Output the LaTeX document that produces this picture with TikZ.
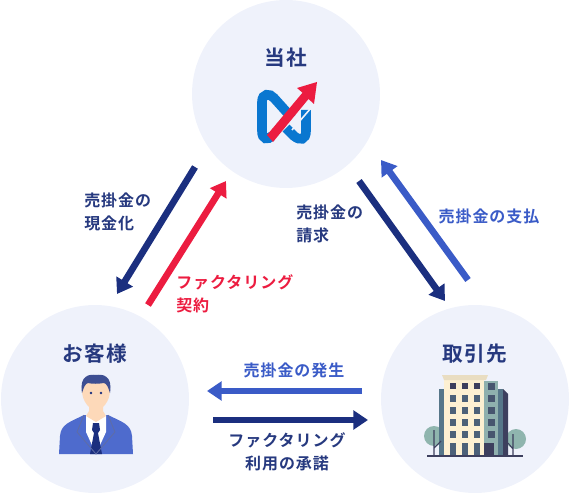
\documentclass[tikz,border=0pt]{standalone}
\usepackage{fontspec}
\setmainfont{Noto Sans CJK JP}[BoldFont={Noto Sans CJK JP Bold},LetterSpace=6]
\usetikzlibrary{arrows.meta,positioning}
\definecolor{bgcircle}{HTML}{EFF2FB}
\definecolor{navy}{HTML}{1B2F7F}
\definecolor{midblue}{HTML}{3A5BC7}
\definecolor{flagred}{HTML}{EC1C40}
\definecolor{labelnavy}{HTML}{26397F}
\definecolor{logoblue}{HTML}{0A77D0}
\definecolor{cream}{HTML}{FDF0D2}
\definecolor{towergrey}{HTML}{8FB0AE}
\definecolor{towerslate}{HTML}{567689}
\definecolor{towerdark}{HTML}{3D3F5E}
\definecolor{treegreen}{HTML}{8FB5AE}
\definecolor{skin}{HTML}{FDD9B9}
\tikzset{
  flowfig/.style={x=0.75pt,y=-0.75pt,
    every node/.style={align=center,inner sep=0pt}},
  party/.style={circle,fill=bgcircle,minimum size=141pt},
  title/.style={font=\fontsize{15.5}{18}\selectfont\bfseries,text=labelnavy},
  note/.style={font=\fontsize{12}{17.25}\selectfont\bfseries,text=labelnavy},
  redarrow/.style={line width=5pt,draw=flagred,-{Triangle[length=11pt,width=14pt]}},
  navyarrow/.style={line width=5pt,draw=navy,-{Triangle[length=11pt,width=14pt]}},
  bluearrow/.style={line width=5pt,draw=midblue,-{Triangle[length=11pt,width=14pt]}},
}
\begin{document}
\begin{tikzpicture}[flowfig]
    \useasboundingbox (0,0) rectangle (571,495);
    \node[party] (self) at (286,94) {};
    \node[party] (client) at (95,399) {};
    \node[party] (vendor) at (475,399) {};

    \node[title] (selftitle) at (286,58) {当社};
    \node[title] (clienttitle) at (95,354) {お客様};
    \node[title] (vendortitle) at (475,354) {取引先};

    % logo
    \draw[logoblue,line width=7.2pt]
      (272,136) .. controls (268,140) and (262,140) .. (262,131) -- (262,102)
      .. controls (262,93) and (270,93) .. (274,98) -- (292,118);
    \draw[logoblue,line width=7.2pt]
      (286,128) -- (294,136) .. controls (300,141) and (306,140) .. (306,131) -- (306,110);
    \draw[bgcircle,line width=1.2pt] (292,130) -- (311,108);
    \fill[flagred] (267,135) -- (302.5,92.7) -- (297,88) -- (317,82) -- (314,104)
      -- (308.5,99) -- (273,142) -- cycle;

    % client figure
    \fill[midblue!90] (59,454) -- (60,436) .. controls (61,424) and (70,422) .. (84,415)
      -- (108,415) .. controls (122,422) and (131,424) .. (132,436) -- (133,454) -- cycle;
    \fill[white] (86,415) -- (106,415) -- (106,432) -- (96,454) -- (86,432) -- cycle;
    \fill[skin] (89,402) -- (103,402) -- (103,411) -- (106,416) -- (96,422) -- (86,416) -- (89,411) -- cycle;
    \fill[skin] (82,390) .. controls (82,375) and (110,375) .. (110,390)
      .. controls (110,402) and (102,410) .. (96,410)
      .. controls (90,410) and (82,402) .. (82,390) -- cycle;
    \fill[navy!85] (82,393) .. controls (79,375) and (90,374) .. (96,375)
      .. controls (102,374) and (113,375) .. (110,393)
      .. controls (108,387) and (107,384) .. (104,383)
      .. controls (98,384) and (92,384) .. (88,383)
      .. controls (85,384) and (84,387) .. (82,393) -- cycle;
    \fill[navy] (93,423) -- (99,423) -- (100,430) -- (98,433)
      -- (102,454) -- (90,454) -- (94,433) -- (92,430) -- cycle;
    \draw[navy!70,line width=0.6pt] (84,415) -- (77,432) -- (96,454) -- (115,432) -- (108,415);
    \fill[navy] (91,393) circle (1pt) (101,393) circle (1pt);

    % vendor building
    \fill[treegreen] (434,436) circle (7.5pt) (516,439) circle (7.5pt);
    \fill[towerslate] (439,389) rectangle (444,456);
    \fill[cream] (444,380) rectangle (484,456);
    \fill[cream!92!black] (442,375) -- (488,375) -- (486,380) -- (444,380) -- cycle;
    \fill[towergrey] (484,381) rectangle (498,456);
    \fill[towerslate] (498,389) rectangle (503,456);
    \fill[towerdark] (503,389) -- (508,394) -- (508,456) -- (503,456) -- cycle;
    \foreach \wx in {453,465,477} {
      \fill[towerdark] (\wx-3,383) rectangle (\wx+3,389);
      \foreach \wy in {398,410,422,434}
        \fill[towerslate!60!towerdark] (\wx-3,\wy-3.5) rectangle (\wx+3,\wy+3.5);
      \fill[towerslate!60!towerdark] (\wx-3,443) rectangle (\wx+3,456);
    }
    \foreach \wy in {386,398,410,422,434}
      \fill[towerslate!40!towerdark] (487.5,\wy-3.5) rectangle (494.5,\wy+3.5);
    \fill[towerdark] (484,443) rectangle (494,456);
    \draw[towerdark,line width=0.8pt] (434,430) -- (434,456) (434,448) -- (441,441)
      (513,434) -- (513,456) (513,449) -- (508,443);
    \draw[towerdark,line width=1pt] (427,456) -- (523,456);

    % arrows
    \coordinate (cashfrom) at (195,167);
    \coordinate (cashto) at (117,294);
    \coordinate (dealfrom) at (148,305);
    \coordinate (dealto) at (226,181);
    \coordinate (billfrom) at (359,181);
    \coordinate (billto) at (445,301);
    \coordinate (payfrom) at (468,280);
    \coordinate (payto) at (381,160);
    \coordinate (risefrom) at (362,391);
    \coordinate (riseto) at (207,391);
    \coordinate (okfrom) at (213,420);
    \coordinate (okto) at (368,420);
    \draw[navyarrow] (cashfrom) -- (cashto);
    \draw[redarrow] (dealfrom) -- (dealto);
    \draw[navyarrow] (billfrom) -- (billto);
    \draw[bluearrow] (payfrom) -- (payto);
    \draw[bluearrow] (risefrom) -- (riseto);
    \draw[navyarrow] (okfrom) -- (okto);

    % labels
    \node[note,align=left,anchor=west] (cashnote) at (84,212) {売掛金の\\現金化};
    \node[note,align=left,anchor=west,text=flagred] (dealnote) at (176,294) {ファクタリング\\契約};
    \node[note,align=left,anchor=west] (billnote) at (296,224) {売掛金の\\請求};
    \node[note,text=midblue] (paynote) at (489,216) {売掛金の支払};
    \node[note,text=midblue] (risenote) at (294,370) {売掛金の発生};
    \node[note] (oknote) at (287,452) {ファクタリング\\利用の承諾};
\end{tikzpicture}
\end{document}
